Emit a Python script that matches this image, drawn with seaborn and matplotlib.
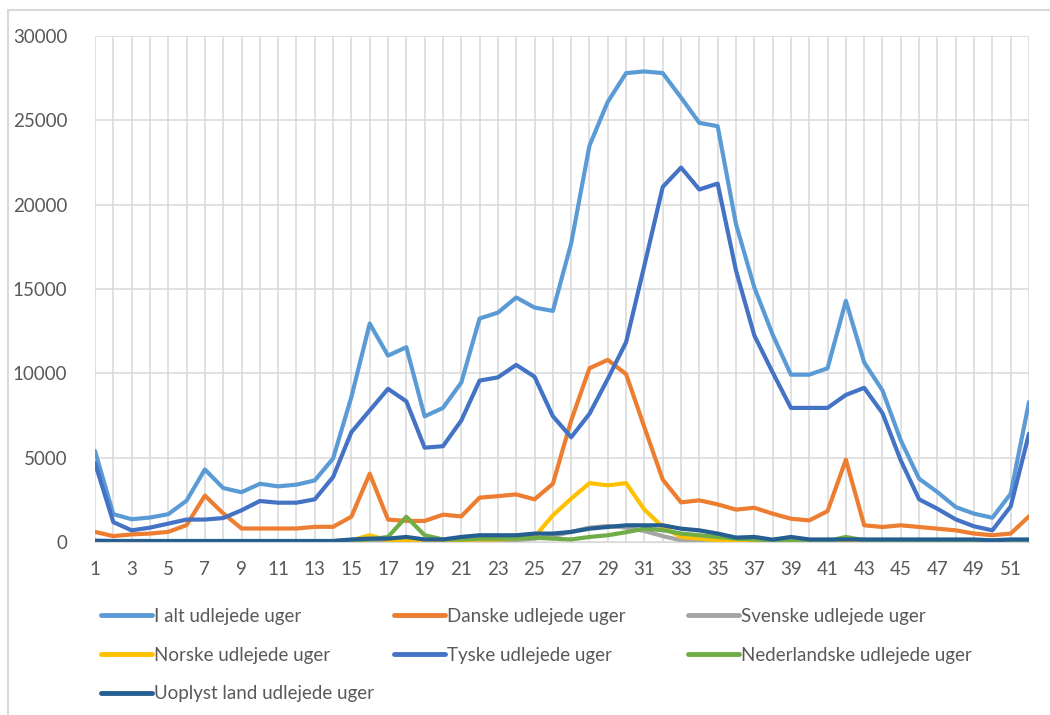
import pandas as pd
import numpy as np
import matplotlib
matplotlib.use('Agg')
import matplotlib.pyplot as plt
import seaborn as sns
from matplotlib.lines import Line2D
from matplotlib.patches import Rectangle

# week numbers 1-52
uger = list(range(1, 53))

i_alt = [5400, 1650, 1350, 1450, 1650, 2450, 4300, 3200, 2950, 3450, 3300, 3400, 3650, 4950,
         8600, 12950, 11050, 11550, 7450, 7950, 9450, 13250, 13600, 14500, 13900, 13700,
         17700, 23500, 26100, 27800, 27900, 27800, 26350, 24850, 24650, 18850, 15100, 12300,
         9920, 9920, 10300, 14300, 10650, 8980, 6020, 3750, 2960, 2070, 1680, 1440, 2860, 8300]

danske = [600, 350, 450, 500, 600, 1000, 2750, 1700, 800, 800, 800, 800, 900, 900,
          1500, 4050, 1330, 1250, 1250, 1620, 1520, 2630, 2720, 2820, 2530, 3450,
          7200, 10300, 10800, 9950, 6800, 3700, 2350, 2470, 2230, 1920, 2030, 1680,
          1380, 1280, 1830, 4880, 990, 890, 990, 890, 790, 690, 500, 400, 500, 1520]

svenske = [30, 20, 20, 20, 20, 20, 30, 30, 20, 20, 20, 20, 20, 30, 50, 100, 80, 80, 50, 50,
           80, 100, 100, 120, 200, 350, 600, 850, 950, 850, 650, 350, 100, 50, 30, 30, 30,
           20, 20, 20, 20, 30, 20, 20, 20, 20, 20, 20, 20, 20, 20, 30]

norske = [50, 30, 30, 30, 30, 30, 50, 50, 30, 30, 30, 30, 30, 50, 100, 400, 100, 50, 60, 80,
          120, 150, 150, 200, 300, 1580, 2570, 3490, 3360, 3490, 1920, 890, 300, 200, 100,
          50, 50, 30, 30, 30, 30, 50, 30, 30, 30, 20, 20, 20, 20, 20, 20, 30]

tyske = [4680, 1180, 690, 850, 1090, 1330, 1330, 1420, 1880, 2430, 2330, 2330, 2530, 3850,
         6510, 7800, 9080, 8340, 5590, 5680, 7200, 9570, 9760, 10500, 9800, 7460, 6210,
         7600, 9670, 11850, 16400, 21050, 22200, 20900, 21250, 16100, 12250, 10060, 7950,
         7950, 7950, 8720, 9140, 7640, 4830, 2530, 1970, 1340, 930, 690, 2110, 6420]

nederlandske = [30, 20, 20, 20, 20, 20, 30, 30, 20, 20, 20, 20, 20, 50, 100, 150, 300, 1500,
                400, 150, 150, 200, 200, 200, 250, 200, 150, 300, 400, 580, 790, 700, 500,
                400, 300, 200, 150, 100, 50, 50, 50, 300, 100, 50, 30, 30, 30, 20, 20, 20, 20, 30]

uoplyst = [80, 60, 60, 60, 60, 60, 60, 60, 60, 60, 60, 60, 60, 60, 150, 200, 200, 300, 150,
           150, 300, 400, 400, 400, 500, 500, 600, 790, 890, 990, 990, 990, 790, 690, 500,
           260, 300, 140, 300, 150, 150, 150, 150, 150, 150, 150, 150, 150, 150, 100, 150, 150]

serier = ['I alt udlejede uger', 'Danske udlejede uger', 'Svenske udlejede uger',
          'Norske udlejede uger', 'Tyske udlejede uger', 'Nederlandske udlejede uger',
          'Uoplyst land udlejede uger']
farver = ['#5B9BD5', '#ED7D31', '#A5A5A5', '#FFC000', '#4472C4', '#70AD47', '#255E91']
vaerdier = [i_alt, danske, svenske, norske, tyske, nederlandske, uoplyst]

df = pd.DataFrame({'uge': uger * len(serier),
                   'serie': np.repeat(serier, len(uger)),
                   'antal': np.concatenate(vaerdier)})

sns.set_style('white')
plt.rcParams['font.family'] = ['Lato', 'DejaVu Sans']

fig = plt.figure(figsize=(10.5, 7.15), dpi=100)
ax = fig.add_axes([95/1050, 1 - 542/715, (1029-95)/1050, (542-36)/715])

sns.lineplot(data=df, x='uge', y='antal', hue='serie', hue_order=serier,
             palette=farver, linewidth=3.0, ax=ax, legend=False)

ax.set_xlim(1, 52)
ax.set_ylim(0, 30000)
ax.set_xticks(range(1, 53))
ax.set_xticklabels([str(u) if u % 2 == 1 else '' for u in uger])
ax.set_yticks(range(0, 30001, 5000))
ax.set_xlabel('')
ax.set_ylabel('')
ax.grid(True, color='#D9D9D9', linewidth=1.1)
ax.set_axisbelow(True)
for s in ['left', 'right', 'top']:
    ax.spines[s].set_visible(False)
ax.spines['bottom'].set_color('#D9D9D9')
ax.tick_params(axis='both', length=0, labelsize=13.5, colors='#595959')
ax.tick_params(axis='y', pad=20)
ax.tick_params(axis='x', pad=14)

# chart border like excel
fig.patches.append(Rectangle((8/1050, -0.01), 1.2, 1 - 10/715 + 0.01, transform=fig.transFigure,
                             fill=False, edgecolor='#D9D9D9', linewidth=1.5))

# legend, three columns as in excel
kolonner = [([0, 3, 6], 101), ([1, 4], 394), ([2, 5], 688)]
for idx, xpos in kolonner:
    h = [Line2D([], [], color=farver[i], linewidth=3.5, solid_capstyle='round') for i in idx]
    lab = [serier[i] for i in idx]
    leg = fig.legend(h, lab, loc='upper left', bbox_to_anchor=(xpos/1050, 1 - 608/715),
                     frameon=False, fontsize=13.5, handlelength=2.7, handletextpad=0.15,
                     labelspacing=1.15, borderaxespad=0, borderpad=0, labelcolor='#595959')

plt.savefig('out.png', dpi=100)
